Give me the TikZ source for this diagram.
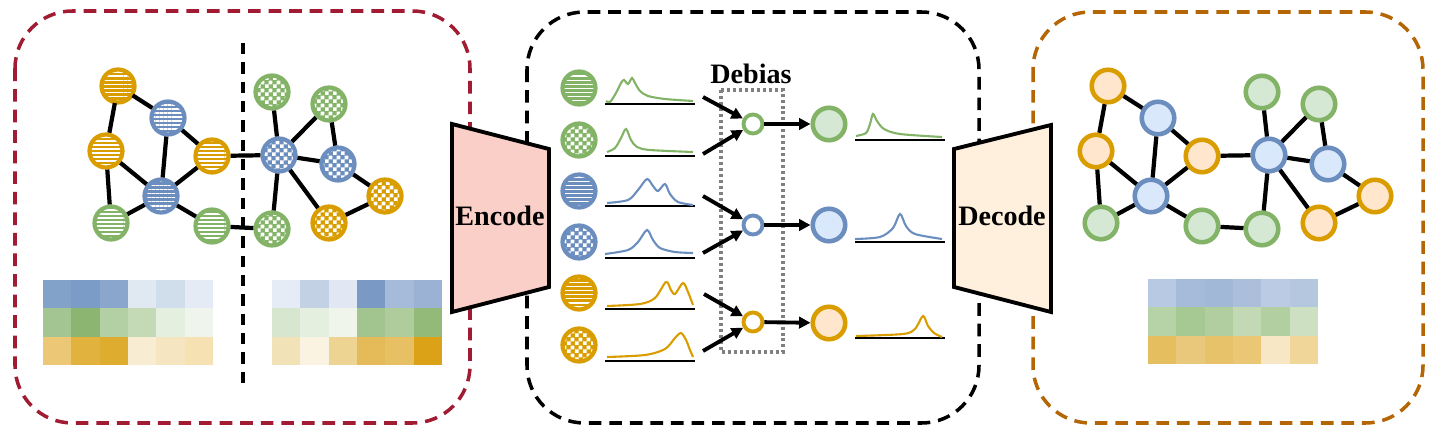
\documentclass[tikz,border=0pt]{standalone}
\usepackage{fontspec}
\setmainfont{Liberation Serif}
\usetikzlibrary{patterns, patterns.meta, arrows.meta}

\definecolor{cgreen}{HTML}{82B366}
\definecolor{cblue}{HTML}{6C8EBF}
\definecolor{corange}{HTML}{D99D00}
\definecolor{lgreen}{HTML}{D5E8D4}
\definecolor{lblue}{HTML}{DAE8FC}
\definecolor{lorange}{HTML}{FFE6CC}
\definecolor{cpanelred}{HTML}{A11C33}
\definecolor{cpanelbrown}{HTML}{B46504}
\definecolor{cenc}{HTML}{F9CFC7}
\definecolor{cdec}{HTML}{FFF0DD}

% small checker board
\pgfdeclarepatternformonly{finechecker}{\pgfpointorigin}{\pgfqpoint{4.3pt}{4.3pt}}{\pgfqpoint{4.3pt}{4.3pt}}{
  \pgfpathrectangle{\pgfpointorigin}{\pgfqpoint{2.2pt}{2.2pt}}
  \pgfpathrectangle{\pgfqpoint{2.15pt}{2.15pt}}{\pgfqpoint{2.2pt}{2.2pt}}
  \pgfusepath{fill}}

% heat map: top left corner (x,y), then 18 cell colours row by row
\newcommand{\heatmap}[3]{%
  \foreach \hc [count=\i from 0] in {#3} {
    \pgfmathtruncatemacro{\hcol}{mod(\i,6)}
    \pgfmathtruncatemacro{\hrow}{div(\i,6)}
    \definecolor{hcell}{HTML}{\hc}
    \fill[hcell] (#1+\hcol*28.33,#2+\hrow*28.33) rectangle ++(28.6,28.6);
  }}

\begin{document}
\begin{tikzpicture}[x=0.02cm, y=-0.02cm,
    hnode/.style={circle, minimum size=0.66cm, inner sep=0pt, line width=2.4pt, draw=#1,
      preaction={fill=#1}, pattern={Lines[angle=0, distance=2.3pt, line width=1pt]}, pattern color=white},
    cnode/.style={circle, minimum size=0.66cm, inner sep=0pt, line width=2.4pt, draw=#1,
      preaction={fill=#1}, pattern=finechecker, pattern color=white},
    fnode/.style={circle, minimum size=0.65cm, inner sep=0pt, line width=2.6pt, draw=c#1, fill=l#1},
    dnode/.style={circle, minimum size=0.38cm, inner sep=0pt, line width=2.2pt, draw=#1, fill=white},
    edge/.style={line width=2.4pt},
    arr/.style={line width=2.2pt, -{Triangle[length=6.5pt, width=6.5pt]}},
    curve/.style={line width=1.2pt, #1},
    panel/.style={line width=2pt, rounded corners=1.15cm, dash pattern=on 7.2pt off 4.5pt},
    trap/.style={line width=2.2pt, line join=miter},
    label/.style={font=\bfseries\fontsize{16}{19}\selectfont}]

  \useasboundingbox (0,0) rectangle (1441,436);

  % khung
  \draw[panel, cpanelred] (15,11) rectangle (470,423);
  \draw[panel, black] (527,12) rectangle (979,423);
  \draw[panel, cpanelbrown] (1033,12) rectangle (1423,423);
  \draw[line width=2pt, dash pattern=on 6.5pt off 4.5pt] (243,43) -- (243,390);

  % heat maps
  \heatmap{43}{280}{83A2CA,7C9CC8,8AA6CC,E0E8F2,D0DDEB,E4EBF5,
    A3C592,8CB572,B3CFA4,C4D9B6,E4EFE0,EFF5EC,
    EBC776,E2B23F,DEAC2F,F8EDD2,F6E5C1,F5E1B2}
  \heatmap{272}{280}{E5ECF5,C2D1E4,E1E8F3,7A9AC5,A6BBD9,9CB2D4,
    D7E7CF,E4EFDF,F0F5EC,A2C58F,AFCD9C,93BA78,
    F2E2B8,FAF3E2,EED492,E5BA58,E6C062,DBA217}
  \heatmap{1148}{279}{B8CAE3,A6BBD9,A2B8D7,ABBFDB,BACBE3,B5C6DF,
    B5D3A6,A6C994,B0CE9F,C3D9B6,B2CFA1,CDE0C2,
    E5BE60,EAC87B,E8C26B,E9C775,F7E7C4,F1D699}

  % input graph
  \foreach \n/\x/\y/\c in {o1/118/86/corange, b1/168/118/cblue, o2/106/151/corange,
      o3/212/156/corange, b2/161/196/cblue, g1/111/223/cgreen, g2/212/226/cgreen}
    \node[hnode=\c] (l\n) at (\x,\y) {};
  \foreach \n/\x/\y/\c in {g3/272/92/cgreen, g4/329/104/cgreen, b3/279/155/cblue,
      b4/338/164/cblue, o4/385/196/corange, o5/329/223/corange, g5/272/229/cgreen}
    \node[cnode=\c] (l\n) at (\x,\y) {};

  % output graph
  \foreach \n/\x/\y/\c in {o1/118/86/orange, b1/168/118/blue, o2/106/151/orange,
      o3/212/156/orange, b2/161/196/blue, g1/111/223/green, g2/212/226/green,
      g3/272/92/green, g4/329/104/green, b3/279/155/blue,
      b4/338/164/blue, o4/385/196/orange, o5/329/223/orange, g5/272/229/green}
    \node[fnode=\c] (r\n) at (\x+990,\y) {};

  \foreach \g in {l,r}
    \foreach \a/\b in {o1/b1, o1/o2, b1/o3, b1/b2, o2/b2, o2/g1, g1/b2, b2/o3, b2/g2,
        o3/b3, g2/g5, g3/b3, b3/g4, g4/b4, b3/b4, b3/g5, b3/o5, b4/o4, o4/o5}
      \draw[edge] (\g\a) -- (\g\b);

  % encoder / decoder
  \draw[trap, fill=cenc] (452,124) -- (549,149) -- (549,287) -- (452,312) -- cycle;
  \node[label] (enc) at (500,216) {Encode};
  \draw[trap, fill=cdec] (954,149) -- (1051,125) -- (1051,312) -- (954,287) -- cycle;
  \node[label] (dec) at (1002,216) {Decode};

  % embeddings
  \node[hnode=cgreen] (m1) at (579,88) {};
  \node[cnode=cgreen] (m2) at (579,140) {};
  \node[hnode=cblue] (m3) at (579,191) {};
  \node[cnode=cblue] (m4) at (579,242) {};
  \node[hnode=corange] (m5) at (579,293) {};
  \node[cnode=corange] (m6) at (579,345) {};

  \foreach \y in {104,156,206,258,309,361}
    \draw[line width=0.8pt] (605,\y) -- (695,\y);
  \draw[curve=cgreen] plot[smooth, tension=0.5] coordinates {(606,101) (610,102) (616,93)
    (621,83) (624,80) (628,84) (632,78) (635,83) (640,91) (648,96) (665,99) (693,101)};
  \draw[curve=cgreen] plot[smooth, tension=0.5] coordinates {(607,152) (615,148) (621,138)
    (626,129) (631,140) (637,147) (650,150) (693,152)};
  \draw[curve=cblue] plot[smooth, tension=0.5] coordinates {(607,203) (628,200) (638,190)
    (647,179) (653,186) (658,191) (665,184) (670,194) (678,202) (693,205)};
  \draw[curve=cblue] plot[smooth, tension=0.5] coordinates {(605,254) (628,250) (638,242)
    (647,230) (653,240) (660,248) (675,252) (693,253)};
  \draw[curve=corange] plot[smooth, tension=0.5] coordinates {(607,306) (640,304) (655,298)
    (666,282) (671,290) (675,294) (683,283) (688,292) (693,305)};
  \draw[curve=corange] plot[smooth, tension=0.5] coordinates {(607,357) (645,355) (665,349)
    (675,338) (681,333) (686,340) (690,350) (693,357)};

  % debias
  \draw[gray, line width=2pt, dash pattern=on 1.7pt off 1.7pt] (721,90) rectangle (783,352);
  \node[label] (deb) at (751,74) {Debias};
  \node[dnode=cgreen] (d1) at (753,124) {};
  \node[dnode=cblue] (d2) at (753,225) {};
  \node[dnode=corange] (d3) at (753,322) {};
  \coordinate (a1) at (703,97);
  \coordinate (a2) at (703,154);
  \coordinate (a3) at (703,196);
  \coordinate (a4) at (703,253);
  \coordinate (a5) at (704,294);
  \coordinate (a6) at (703,351);
  \draw[arr] (a1) -- (d1);
  \draw[arr] (a2) -- (d1);
  \draw[arr] (a3) -- (d2);
  \draw[arr] (a4) -- (d2);
  \draw[arr] (a5) -- (d3);
  \draw[arr] (a6) -- (d3);

  \node[fnode=green] (u1) at (829,124) {};
  \node[fnode=blue] (u2) at (829,225) {};
  \node[fnode=orange] (u3) at (829,323) {};
  \draw[arr] (d1) -- (u1);
  \draw[arr] (d2) -- (u2);
  \draw[arr] (d3) -- (u3);

  \foreach \y in {140,242,338}
    \draw[line width=0.8pt] (855,\y) -- (945,\y);
  \draw[curve=cgreen] plot[smooth, tension=0.5] coordinates {(856,136) (866,133) (870,124)
    (873,114) (877,121) (884,129) (900,134) (942,137)};
  \draw[curve=cblue] plot[smooth, tension=0.5] coordinates {(855,239) (880,237) (893,228)
    (900,214) (906,226) (915,234) (942,239)};
  \draw[curve=corange] plot[smooth, tension=0.5] coordinates {(856,336) (903,334) (915,329)
    (923,316) (928,326) (934,333) (942,337)};
\end{tikzpicture}
\end{document}
